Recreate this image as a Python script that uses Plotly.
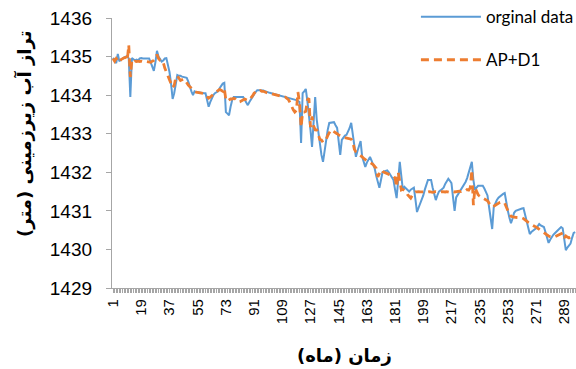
import plotly.graph_objects as go

months = list(range(1, 297))

original_data = [
    1434.97, 1434.9, 1434.83, 1435.07, 1434.88, 1434.92, 1434.95, 1434.98, 1435.0, 1435.02,
    1434.95, 1433.95, 1434.96, 1434.93, 1434.9, 1434.92, 1434.9, 1434.95, 1434.96, 1434.95,
    1434.95, 1434.94, 1434.95, 1434.95, 1434.85, 1434.72, 1434.63, 1434.85, 1435.15, 1435.0,
    1434.95, 1434.87, 1434.9, 1434.95, 1434.96, 1434.8, 1434.6, 1434.3, 1433.9, 1434.05,
    1434.3, 1434.52, 1434.5, 1434.5, 1434.48, 1434.47, 1434.46, 1434.45, 1434.35, 1434.2,
    1434.1, 1434.0, 1434.1, 1434.08, 1434.07, 1434.08, 1434.07, 1434.06, 1434.05, 1434.05,
    1433.9, 1433.7, 1433.82, 1433.93, 1434.0, 1434.05, 1434.08, 1434.1, 1434.18, 1434.26,
    1434.3, 1434.32, 1433.56, 1433.52, 1433.48, 1433.7, 1433.87, 1433.95, 1433.95, 1433.95,
    1433.95, 1433.95, 1433.95, 1433.95, 1433.88, 1433.8, 1433.74, 1433.82, 1433.9, 1433.95,
    1434.02, 1434.08, 1434.13, 1434.13, 1434.13, 1434.13, 1434.12, 1434.1, 1434.08, 1434.07,
    1434.06, 1434.05, 1434.04, 1434.03, 1434.02, 1434.01, 1434.0, 1433.99, 1433.98, 1433.97,
    1433.96, 1433.95, 1433.94, 1433.92, 1433.91, 1433.9, 1433.89, 1433.87, 1433.85, 1433.82,
    1432.76, 1434.05, 1434.1, 1434.16, 1433.85, 1433.54, 1433.1, 1432.66, 1433.3, 1433.95,
    1433.36, 1433.0, 1432.7, 1432.45, 1432.27, 1432.6, 1432.91, 1433.1, 1433.28, 1433.29,
    1433.3, 1433.3, 1433.22, 1433.15, 1432.8, 1432.45, 1432.84, 1432.9, 1432.95, 1432.97,
    1433.05, 1433.15, 1433.28, 1432.95, 1432.65, 1432.4, 1432.55, 1432.7, 1432.81, 1432.4,
    1432.25, 1432.14, 1432.25, 1432.33, 1432.4, 1432.3, 1432.2, 1432.1, 1431.9, 1431.75,
    1431.6, 1431.8, 1432.0, 1432.02, 1432.04, 1432.05, 1432.0, 1431.93, 1431.86, 1431.8,
    1431.55, 1431.33, 1431.8, 1432.27, 1431.9, 1431.54, 1431.62, 1431.58, 1431.54, 1431.5,
    1431.55, 1431.58, 1431.6, 1431.3, 1430.97, 1431.08, 1431.18, 1431.28, 1431.4, 1431.55,
    1431.7, 1431.8, 1431.8, 1431.8, 1431.6, 1431.4, 1431.28, 1431.4, 1431.5, 1431.53,
    1431.57, 1431.6, 1431.7, 1431.78, 1431.83, 1431.78, 1431.72, 1431.35, 1431.0, 1431.35,
    1431.42, 1431.48, 1431.54, 1431.6, 1431.68, 1431.75, 1431.85, 1431.98, 1432.12, 1432.27,
    1431.8, 1431.54, 1431.6, 1431.65, 1431.65, 1431.65, 1431.65, 1431.58, 1431.5, 1431.4,
    1431.1, 1430.8, 1430.53, 1431.1, 1431.2, 1431.28, 1431.34, 1431.38, 1431.41, 1431.44,
    1431.46, 1431.2, 1431.0, 1430.82, 1430.68, 1430.8, 1430.95, 1431.0, 1431.02, 1431.04,
    1431.05, 1431.06, 1431.07, 1430.9, 1430.7, 1430.52, 1430.4, 1430.45, 1430.48, 1430.5,
    1430.55, 1430.6, 1430.66, 1430.62, 1430.6, 1430.58, 1430.45, 1430.3, 1430.17, 1430.25,
    1430.32, 1430.38, 1430.42, 1430.46, 1430.5, 1430.54, 1430.58, 1430.55, 1430.2, 1429.98,
    1430.05, 1430.1, 1430.15, 1430.3, 1430.43, 1430.45,
]

ap_d1 = [
    1434.95, 1434.88, 1434.95, 1434.9, 1434.85, 1434.92, 1434.95, 1434.97, 1434.98, 1434.9,
    1435.3, 1434.47, 1434.9, 1434.85, 1434.88, 1434.87, 1434.88, 1434.87, 1434.88, 1434.87,
    1434.88, 1434.87, 1434.87, 1434.86, 1434.85, 1434.88, 1434.9, 1434.95, 1435.05, 1434.95,
    1434.9, 1434.9, 1434.85, 1434.7, 1434.6, 1434.5, 1434.45, 1434.3, 1434.2, 1434.25,
    1434.45, 1434.5, 1434.42, 1434.38, 1434.4, 1434.42, 1434.38, 1434.3, 1434.26, 1434.22,
    1434.18, 1434.12, 1434.1, 1434.08, 1434.07, 1434.06, 1434.05, 1434.05, 1434.04, 1434.0,
    1433.95, 1433.92, 1433.95, 1434.0, 1434.02, 1434.05, 1434.1, 1434.12, 1434.15, 1434.12,
    1434.1, 1434.18, 1433.87, 1433.85, 1433.88, 1433.9, 1433.9, 1433.92, 1433.9, 1433.85,
    1433.82, 1433.83, 1433.85, 1433.88, 1433.9, 1433.88, 1433.86, 1433.88, 1433.92, 1433.98,
    1434.05, 1434.1, 1434.12, 1434.1, 1434.12, 1434.1, 1434.1, 1434.08, 1434.06, 1434.05,
    1434.05, 1434.04, 1434.03, 1434.02, 1434.0, 1433.98, 1433.97, 1433.96, 1433.95, 1433.95,
    1433.95, 1433.92, 1433.88, 1433.8, 1433.7, 1433.62, 1433.56, 1433.6, 1434.08, 1433.8,
    1433.17, 1433.56, 1433.56, 1433.58, 1433.87, 1433.92, 1433.17, 1433.45, 1433.2, 1433.1,
    1433.1, 1432.95, 1432.85, 1432.84, 1432.78, 1432.8, 1432.85, 1432.95, 1433.05, 1433.1,
    1433.08, 1433.06, 1433.04, 1433.0, 1432.97, 1432.94, 1432.92, 1432.91, 1432.9, 1432.89,
    1432.88, 1432.87, 1432.86, 1432.8, 1432.6, 1432.53, 1432.5, 1432.47, 1432.45, 1432.4,
    1432.36, 1432.32, 1432.3, 1432.28, 1432.26, 1432.24, 1432.2, 1432.15, 1432.1, 1431.88,
    1432.0, 1432.06, 1432.02, 1432.0, 1431.98, 1431.96, 1431.95, 1431.93, 1431.92, 1431.9,
    1431.85, 1431.62, 1432.0, 1431.8, 1431.54, 1431.56, 1431.54, 1431.5, 1431.42, 1431.36,
    1431.33, 1431.4, 1431.45, 1431.49, 1431.49, 1431.5, 1431.49, 1431.48, 1431.49, 1431.5,
    1431.49, 1431.49, 1431.5, 1431.49, 1431.48, 1431.49, 1431.5, 1431.49, 1431.48, 1431.49,
    1431.5, 1431.49, 1431.49, 1431.5, 1431.49, 1431.48, 1431.49, 1431.5, 1431.49, 1431.5,
    1431.5, 1431.51, 1431.5, 1431.52, 1431.53, 1431.52, 1431.55, 1431.54, 1431.6, 1432.06,
    1431.15, 1431.6, 1431.5, 1431.42, 1431.38, 1431.36, 1431.34, 1431.3, 1431.28, 1431.26,
    1431.2, 1431.15, 1431.1, 1431.12, 1431.15, 1431.18, 1431.2, 1431.22, 1431.23, 1431.22,
    1431.2, 1431.1, 1431.0, 1430.92, 1430.86, 1430.84, 1430.84, 1430.83, 1430.83, 1430.82,
    1430.82, 1430.82, 1430.8, 1430.76, 1430.72, 1430.7, 1430.67, 1430.64, 1430.62, 1430.6,
    1430.58, 1430.55, 1430.52, 1430.48, 1430.45, 1430.43, 1430.4, 1430.37, 1430.35, 1430.33,
    1430.32, 1430.32, 1430.33, 1430.35, 1430.38, 1430.4, 1430.43, 1430.43, 1430.3, 1430.35,
    1430.32, 1430.3, 1430.32, 1430.33, 1430.32, 1430.32,
]

x_tick_values = list(range(1, 297, 18))
x_tick_labels = [str(v) for v in x_tick_values]
y_tick_values = [1429, 1430, 1431, 1432, 1433, 1434, 1435, 1436]

series_names = ["orginal data", "AP+D1"]
x_title = "زمان (ماه)"
y_title = "تراز آب زیرزمینی (متر)"

fig = go.Figure()
fig.add_trace(go.Scatter(
    x=months, y=original_data, mode="lines", name=series_names[0],
    line=dict(color="#5B9BD5", width=2), legendgroup="a",
))
fig.add_trace(go.Scatter(
    x=months, y=ap_d1, mode="lines", name=series_names[1],
    line=dict(color="#ED7D31", width=2.8, dash="8px,5px"), legendgroup="b",
))

fig.update_layout(
    width=576, height=369,
    margin=dict(l=112, r=0, t=18, b=81, autoexpand=False),
    paper_bgcolor="white", plot_bgcolor="white",
    font=dict(family="Liberation Sans, Arial, sans-serif", color="black"),
    showlegend=True,
    legend=dict(
        x=0.655, y=1.07, xanchor="left", yanchor="top",
        bgcolor="rgba(255,255,255,0)",
        font=dict(size=17, color="black", family="Lato, Liberation Sans, sans-serif"),
        tracegroupgap=18, itemwidth=60,
    ),
    xaxis=dict(
        range=[0.3, 296.5], automargin=False,
        tickmode="array", tickvals=x_tick_values, ticktext=x_tick_labels,
        tickangle=-90, tickfont=dict(size=15),
        ticks="outside", ticklen=4, tickcolor="#A6A6A6",
        minor=dict(dtick=1, tick0=1, ticks="outside", ticklen=4, tickcolor="#A6A6A6"),
        showline=True, linecolor="#A6A6A6", linewidth=1.3,
        showgrid=False, zeroline=False,
    ),
    yaxis=dict(
        range=[1429, 1436], automargin=False,
        tickmode="array", tickvals=y_tick_values,
        tickfont=dict(size=19), ticklabelstandoff=10,
        ticks="outside", ticklen=5, tickcolor="#A6A6A6",
        showline=True, linecolor="#A6A6A6", linewidth=1.3,
        showgrid=False, zeroline=False,
    ),
    annotations=[
        dict(text="<b>" + y_title + "</b>", xref="paper", yref="paper",
             x=-0.19, y=0.57, xanchor="center", yanchor="middle", textangle=-90,
             showarrow=False, font=dict(size=18, family="DejaVu Sans", color="black")),
        dict(text="<b>" + x_title + "</b>", xref="paper", yref="paper",
             x=0.5, y=-0.25, xanchor="center", yanchor="middle",
             showarrow=False, font=dict(size=18, family="DejaVu Sans", color="black")),
    ],
)

fig.write_html("out.html", config={"displayModeBar": False},
               post_script="document.body.style.margin='0';")
